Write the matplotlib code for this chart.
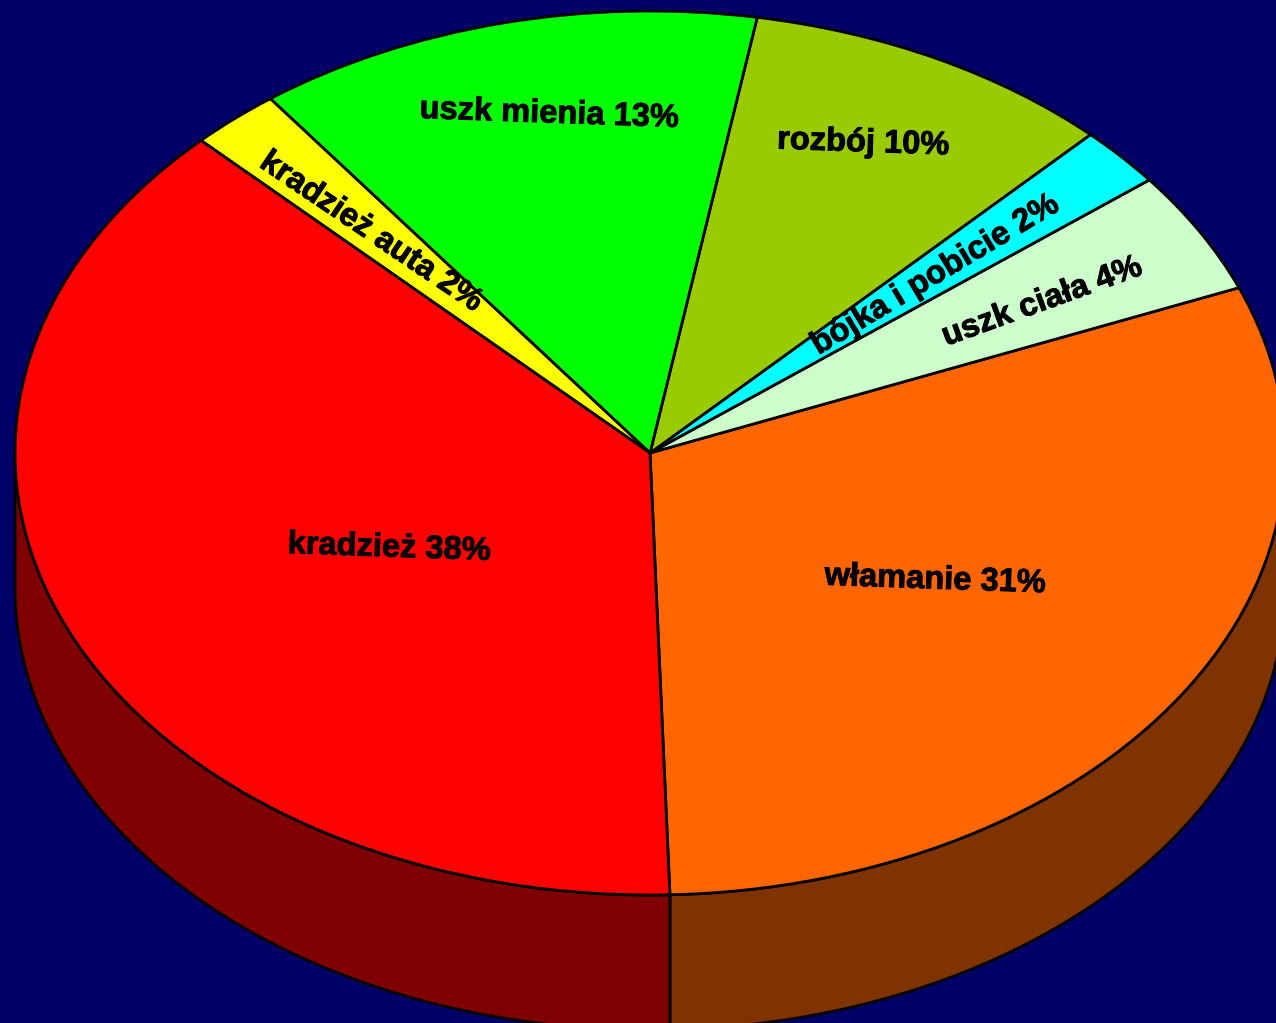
import numpy as np
import matplotlib
matplotlib.use('Agg')
import matplotlib.pyplot as plt
import matplotlib.patheffects as pe

# pie order, counterclockwise from the front seam
labels = ['włamanie 31%', 'uszk ciała 4%', 'bójka i pobicie 2%', 'rozbój 10%',
          'uszk mienia 13%', 'kradzież auta 2%', 'kradzież 38%']
# shares (the printed labels are rounded)
shares = [30.6, 4.5, 2.2, 9.5, 12.9, 2.3, 38.0]
colors = ['#FF6600', '#CCFFCC', '#00FFFF', '#99CC00', '#00FF00', '#FFFF00', '#FF0000']
wall_colors = ['#7F3300', '#66807F', '#007F7F', '#4C6600', '#007F00', '#7F7F00', '#7F0000']

# label placement in image pixels, and rotation
label_px = [(935, 580), (1042, 302), (935, 275), (863, 143), (549, 114), (371, 232), (389, 548)]
label_rot = [-2, 20, 31, -2, -2, -34, -2]

W, H = 1276, 1023
cx, cy = 650, 453
rx, ry = 635, 442
depth = 135 / ry
start = 271.8


def px(x, y):
    return (x - cx) / rx, (cy - y) / ry


fig = plt.figure(figsize=(W / 100, H / 100), dpi=100, facecolor='#000066')
ax = fig.add_axes([0, 0, 1, 1])

ax.pie(shares, colors=colors, startangle=start, counterclock=True, radius=1,
       wedgeprops=dict(edgecolor='black', linewidth=2.0, joinstyle='round'))
ax.set_aspect('auto')
x0, y0 = px(0, H)
x1, y1 = px(W, 0)
ax.set_xlim(x0, x1)
ax.set_ylim(y0, y1)

# side wall, only where a slice faces the viewer (180-360 deg)
edges = start + np.cumsum([0] + shares) * 3.6
for a, b, c in zip(edges[:-1], edges[1:], wall_colors):
    for shift in (0, 360, -360):
        lo = max(a + shift, 180)
        hi = min(b + shift, 360)
        if hi <= lo:
            continue
        t = np.radians(np.linspace(lo, hi, 120))
        xs = np.cos(t)
        ys = np.sin(t)
        ax.fill(np.r_[xs, xs[::-1]], np.r_[ys, ys[::-1] - depth], facecolor=c,
                edgecolor='black', linewidth=2.0, zorder=0.5)

for lab, p, r in zip(labels, label_px, label_rot):
    x, y = px(*p)
    ax.text(x, y, lab, ha='center', va='center', rotation=r, rotation_mode='anchor',
            fontsize=23.5, fontweight='bold', family='Liberation Sans', color='black',
            path_effects=[pe.withStroke(linewidth=0.7, foreground='black')])

fig.savefig('out.png', dpi=100)
